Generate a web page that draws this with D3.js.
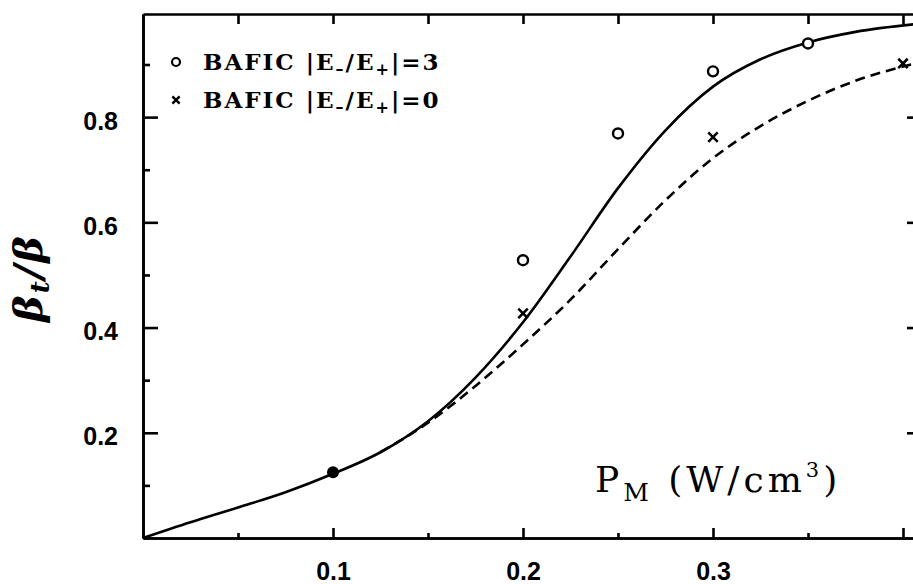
<!DOCTYPE html>
<html>
<head>
<meta charset="utf-8">
<script src="https://cdn.jsdelivr.net/npm/d3@7"></script>
<style>
  body { margin: 0; background: #fff; }
  .tick text { font-family: "Liberation Sans", Arial, sans-serif; font-weight: bold; font-size: 25px; fill: #000; }
  .axis path, .axis line { stroke: #000; stroke-width: 2.6; }
</style>
</head>
<body>
<svg id="chart"></svg>
<script>
var width = 913;
var height = 584;

// solid curve (|E-/E+| = 3 model)
var solidX = [0, 0.025, 0.05, 0.075, 0.1, 0.125, 0.15, 0.175, 0.2, 0.225, 0.25, 0.275, 0.3, 0.325, 0.35, 0.375, 0.41];
var solidY = [0, 0.03, 0.058, 0.087, 0.122, 0.163, 0.222, 0.305, 0.41, 0.535, 0.665, 0.775, 0.858, 0.910, 0.942, 0.962, 0.978];

// dashed curve (|E-/E+| = 0 model)
var dashX = [0.125, 0.15, 0.175, 0.2, 0.225, 0.25, 0.275, 0.3, 0.325, 0.35, 0.375, 0.41];
var dashY = [0.163, 0.219, 0.289, 0.368, 0.453, 0.549, 0.642, 0.722, 0.783, 0.831, 0.869, 0.905];

// BAFIC points
var circX = [0.2, 0.25, 0.3, 0.35];
var circY = [0.528, 0.769, 0.887, 0.940];
var crossX = [0.2, 0.3, 0.4];
var crossY = [0.427, 0.762, 0.902];
var dotX = [0.1];
var dotY = [0.125];

var xMajor = [0.1, 0.2, 0.3, 0.4];
var xLabels = ["0.1", "0.2", "0.3", ""];
var xMinor = [0.05, 0.15, 0.25, 0.35];
var yMajor = [0.2, 0.4, 0.6, 0.8];
var yLabels = ["0.2", "0.4", "0.6", "0.8"];
var yMinor = [0.1, 0.3, 0.5, 0.7, 0.9];
var legendLabels = ["3", "0"];

var mLeft = 143, mRight = 922, mTop = 14, mBottom = 538;

var xScale = d3.scaleLinear()
               .domain([0, 0.41])
               .range([mLeft, mRight]);

var yScale = d3.scaleLinear()
               .domain([0, 0.996])
               .range([mBottom, mTop]);

var svg = d3.select("#chart")
            .attr("width", width)
            .attr("height", height);

// axes
svg.append("g").attr("class", "axis")
    .attr("transform", "translate(0," + mBottom + ")")
    .call(d3.axisBottom(xScale).tickValues(xMajor).tickSize(-10).tickSizeOuter(0).tickPadding(24)
          .tickFormat((d, i) => xLabels[i]));
svg.append("g").attr("class", "axis")
    .attr("transform", "translate(0," + mBottom + ")")
    .call(d3.axisBottom(xScale).tickValues(xMinor).tickSize(-5).tickSizeOuter(0).tickFormat(""));
svg.append("g").attr("class", "axis")
    .attr("transform", "translate(0," + mTop + ")")
    .call(d3.axisTop(xScale).tickValues(xMajor.concat(xMinor)).tickSize(-10).tickSizeOuter(0).tickFormat(""));

svg.append("g").attr("class", "axis")
    .attr("transform", "translate(" + mLeft + ",0)")
    .call(d3.axisLeft(yScale).tickValues(yMajor).tickSize(-15).tickSizeOuter(0).tickPadding(25)
          .tickFormat((d, i) => yLabels[i]))
    .selectAll("text").attr("dy", "0.48em");
svg.append("g").attr("class", "axis")
    .attr("transform", "translate(" + mLeft + ",0)")
    .call(d3.axisLeft(yScale).tickValues(yMinor).tickSize(-7).tickSizeOuter(0).tickFormat(""));
svg.append("g").attr("class", "axis")
    .attr("transform", "translate(" + mRight + ",0)")
    .call(d3.axisRight(yScale).tickValues(yMajor).tickSize(-15).tickSizeOuter(0).tickFormat(""));
svg.append("g").attr("class", "axis")
    .attr("transform", "translate(" + mRight + ",0)")
    .call(d3.axisRight(yScale).tickValues(yMinor).tickSize(-7).tickSizeOuter(0).tickFormat(""));

// curves
var line = d3.line()
             .x(d => xScale(d[0]))
             .y(d => yScale(d[1]))
             .curve(d3.curveMonotoneX);

svg.append("path")
    .datum(d3.zip(solidX, solidY))
    .attr("d", line)
    .attr("fill", "none")
    .attr("stroke", "#000")
    .attr("stroke-width", 2.6);

svg.append("path")
    .datum(d3.zip(dashX, dashY))
    .attr("d", line)
    .attr("fill", "none")
    .attr("stroke", "#000")
    .attr("stroke-width", 2.6)
    .attr("stroke-dasharray", "10,6");

// markers
svg.selectAll(".circ")
  .data(d3.zip(circX, circY))
  .enter()
  .append("circle")
    .attr("cx", d => xScale(d[0]))
    .attr("cy", d => yScale(d[1]))
    .attr("r", 5)
    .attr("fill", "#fff")
    .attr("stroke", "#000")
    .attr("stroke-width", 2.4);

svg.selectAll(".dot")
  .data(d3.zip(dotX, dotY))
  .enter()
  .append("circle")
    .attr("cx", d => xScale(d[0]))
    .attr("cy", d => yScale(d[1]))
    .attr("r", 6)
    .attr("fill", "#000");

var cross = d3.symbol().type(d3.symbolX).size(60);
svg.selectAll(".cross")
  .data(d3.zip(crossX, crossY))
  .enter()
  .append("path")
    .attr("d", cross)
    .attr("transform", d => "translate(" + xScale(d[0]) + "," + yScale(d[1]) + ")")
    .attr("fill", "none")
    .attr("stroke", "#000")
    .attr("stroke-width", 2.6);

// legend
var legend = svg.append("g");
legendLabels.forEach(function (lab, i) {
    var y = 62 + i * 38;
    if (i == 0) {
        legend.append("circle").attr("cx", 176).attr("cy", y).attr("r", 4)
            .attr("fill", "none").attr("stroke", "#000").attr("stroke-width", 2.2);
    } else {
        legend.append("path").attr("d", d3.symbol().type(d3.symbolX).size(36))
            .attr("transform", "translate(176," + y + ")")
            .attr("fill", "none").attr("stroke", "#000").attr("stroke-width", 2.4);
    }
    var t = legend.append("text")
        .attr("x", 203).attr("y", y + 8)
        .style("font-family", "'DejaVu Serif', serif")
        .style("font-weight", "bold")
        .style("font-size", "23px")
        .style("letter-spacing", "2px");
    t.append("tspan").text("BAFIC  |E");
    t.append("tspan").attr("dy", 5).style("font-size", "16px").text("\u2013");
    t.append("tspan").attr("dy", -5).text("/E");
    t.append("tspan").attr("dy", 5).style("font-size", "16px").text("+");
    t.append("tspan").attr("dy", -5).text("|=" + lab);
});

// axis titles
var xt = svg.append("text")
    .attr("x", 595).attr("y", 492)
    .style("font-family", "'DejaVu Serif', serif")
    .style("font-size", "36px")
    .style("letter-spacing", "4px");
xt.append("tspan").text("P");
xt.append("tspan").attr("dy", 9).style("font-size", "25px").text("M");
xt.append("tspan").attr("dy", -9).text(" (W/cm");
xt.append("tspan").attr("dy", -15).style("font-size", "21px").text("3");
xt.append("tspan").attr("dy", 15).text(")");

var yt = svg.append("text")
    .attr("transform", "translate(42,278) rotate(-90)")
    .attr("text-anchor", "middle")
    .style("font-family", "'DejaVu Serif', serif")
    .style("font-style", "italic")
    .style("font-weight", "bold")
    .style("font-size", "40px")
    .style("letter-spacing", "2px");
yt.append("tspan").text("\u03b2");
yt.append("tspan").attr("dy", 7).style("font-size", "26px").text("t");
yt.append("tspan").attr("dy", -7).text("/\u03b2");
</script>
</body>
</html>
